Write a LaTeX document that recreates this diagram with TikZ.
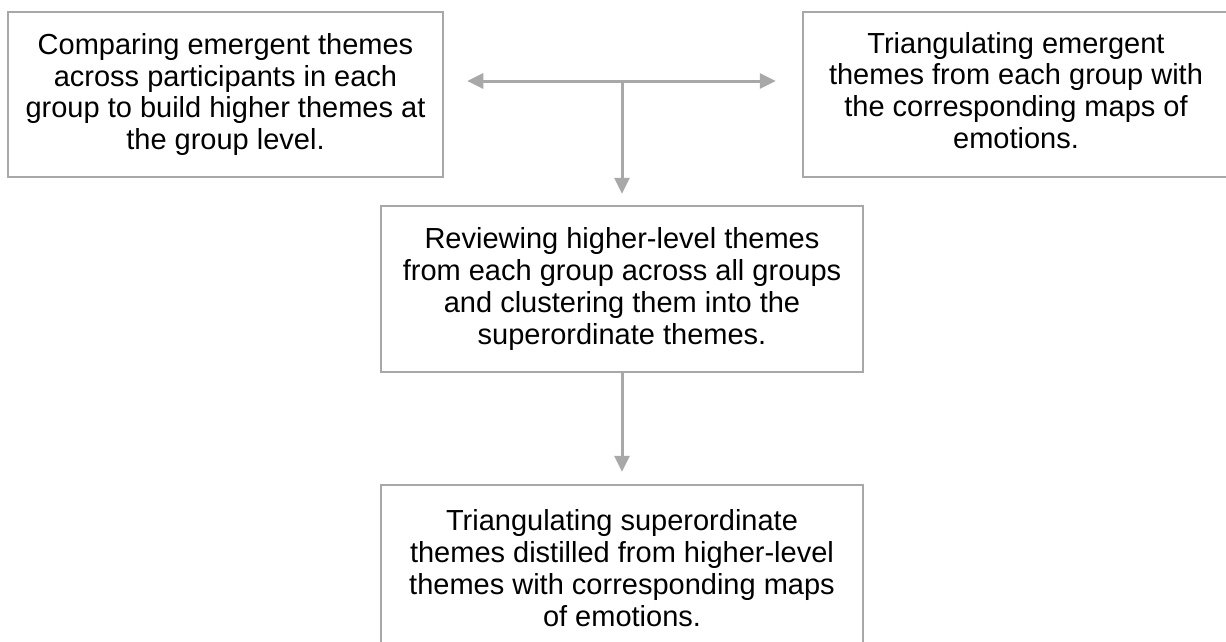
\documentclass[tikz,border=0pt]{standalone}
\usepackage{fontspec}
\setmainfont{Liberation Sans}
\usetikzlibrary{arrows.meta}
\definecolor{linegray}{RGB}{168,168,168}
\tikzset{
  stagebox/.style={draw=linegray, line width=2.5pt, inner sep=0pt, align=center,
    font=\fontsize{29}{31.8}\selectfont, text=black},
  flowarrow/.style={draw=linegray, line width=3pt, -{Triangle[length=16pt,width=15pt]}},
  twoarrow/.style={draw=linegray, line width=3pt, {Triangle[length=16pt,width=15pt]}-{Triangle[length=16pt,width=15pt]}}
}
\begin{document}
\begin{tikzpicture}[x=1pt,y=-1pt]
\useasboundingbox (0,0) rectangle (1226,641);
\clip (0,0) rectangle (1226,641);
\node[stagebox, minimum width=435pt, minimum height=165pt] (A) at (225.5,94.5)
  {Comparing emergent themes\\across participants in each\\group to build higher themes at\\the group level.};
\node[stagebox, align=none, minimum width=446pt, minimum height=165pt] (B) at (1026,94.5)
  {\begin{tabular}{@{}c@{}}Triangulating emergent\\themes from each group with\\the corresponding maps of\\emotions.\end{tabular}\hspace*{20pt}};
\node[stagebox, minimum width=482pt, minimum height=166pt] (C) at (622,289)
  {Reviewing higher-level themes\\from each group across all groups\\and clustering them into the\\superordinate themes.};
\node[stagebox, minimum width=482pt, minimum height=166pt] (D) at (622,568)
  {Triangulating superordinate\\themes distilled from higher-level\\themes with corresponding maps\\of emotions.};
\draw[twoarrow, shorten <=23pt, shorten >=26pt] (A.east |- 0,81) -- (B.west |- 0,81);
\coordinate (J) at (C.north |- 0,81);
\draw[flowarrow, shorten >=11pt] (J) -- (C.north);
\draw[flowarrow, shorten >=12pt] (C.south) -- (D.north);
\end{tikzpicture}
\end{document}
